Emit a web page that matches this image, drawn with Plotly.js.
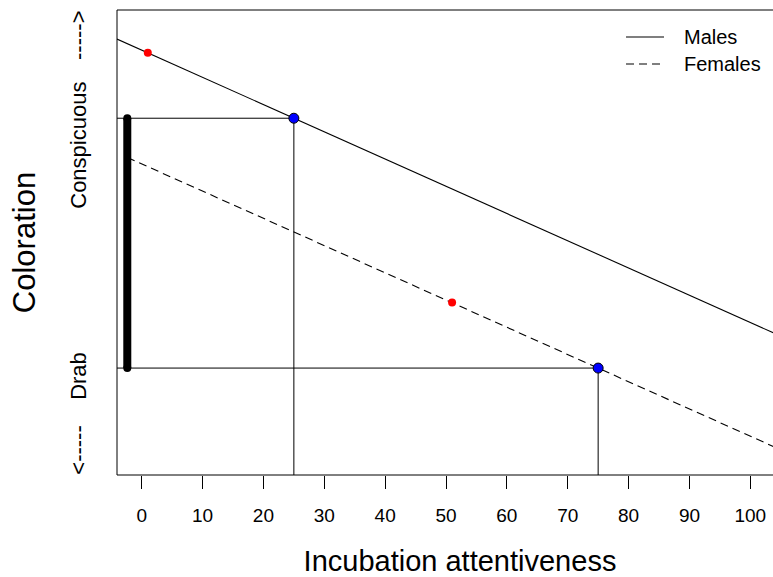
<!DOCTYPE html>
<html>
<head>
<meta charset="utf-8">
<script src="https://cdn.plot.ly/plotly-3.0.1.min.js"></script>
<style>html,body{margin:0;padding:0;background:#fff;overflow:hidden}#chart{width:803px;height:577px}</style>
</head>
<body>
<div id="chart"></div>
<script>
// ---- data (coloration in relative units: Drab = 0, Conspicuous = 1) ----
// The reference is cropped on the right, so the x axis runs past the visible edge.
const xRange = [-4.06, 108.66];
const yRange = [-0.428, 1.4332];

const maleX = [-4.06, 108.66];
const maleY = [1.317, 0.088];
const femaleX = [-2.37, 108.66];
const femaleY = [0.843, -0.367];

const redX = [1, 51];
const redY = [1.262, 0.262];

const blueX = [25, 75];
const blueY = [1, 0];

const barX = [-2.37, -2.37];
const barY = [0, 1];

const xTicks = [0, 10, 20, 30, 40, 50, 60, 70, 80, 90, 100];
const yTickVals = [-0.341, -0.045, 0.879, 1.319];
const yTickText = ['<-----', 'Drab', 'Conspicuous', '----->'];

const legendNames = ['Males', 'Females'];
const legendDash = ['solid', '8px,5px'];

const FONT = 'Liberation Sans, Arial, Helvetica, sans-serif';

const traces = [];
// guide lines from the blue points to the left edge and to the bottom edge
for (let i = 0; i < blueX.length; i++) {
  traces.push({x: [xRange[0], blueX[i]], y: [blueY[i], blueY[i]], mode: 'lines',
    line: {color: '#000', width: 1}, showlegend: false, hoverinfo: 'skip'});
  traces.push({x: [blueX[i], blueX[i]], y: [blueY[i], yRange[0]], mode: 'lines',
    line: {color: '#000', width: 1}, showlegend: false, hoverinfo: 'skip'});
}
traces.push({x: barX, y: barY, mode: 'lines+markers', line: {color: '#000', width: 8},
  marker: {color: '#000', size: 8}, showlegend: false, hoverinfo: 'skip'});
traces.push({x: maleX, y: maleY, mode: 'lines', name: legendNames[0], showlegend: false,
  line: {color: '#000', width: 1.1, dash: legendDash[0]}});
traces.push({x: femaleX, y: femaleY, mode: 'lines', name: legendNames[1], showlegend: false,
  line: {color: '#000', width: 1.1, dash: legendDash[1]}});
traces.push({x: redX, y: redY, mode: 'markers', showlegend: false,
  marker: {color: '#ff0000', size: 8}});
traces.push({x: blueX, y: blueY, mode: 'markers', showlegend: false,
  marker: {color: '#0000ff', size: 10, line: {color: '#000', width: 1}}});

// legend drawn as line samples + labels (placement only)
const legY = [0.942, 0.884];
const shapes = [{type: 'rect', xref: 'paper', yref: 'paper', x0: 0, x1: 1.02, y0: 0, y1: 1,
  line: {color: '#000', width: 1}, layer: 'above'}];
const annotations = [];
legendNames.forEach((n, i) => {
  shapes.push({type: 'line', xref: 'paper', yref: 'paper', x0: 0.742, x1: 0.7974,
    y0: legY[i], y1: legY[i], line: {color: '#000', width: 1.1, dash: legendDash[i]}});
  annotations.push({xref: 'paper', yref: 'paper', x: 0.8235, y: legY[i], xanchor: 'left',
    yanchor: 'middle', text: n, showarrow: false, font: {size: 20, family: FONT, color: '#000'}});
});

const layout = {
  width: 803, height: 577,
  margin: {l: 117, r: 0, t: 10, b: 102, autoexpand: false},
  paper_bgcolor: '#fff', plot_bgcolor: '#fff',
  font: {family: FONT, color: '#000', size: 19},
  xaxis: {
    range: xRange, automargin: false, showgrid: false, zeroline: false, showline: false,
    tickmode: 'array', tickvals: xTicks, ticks: 'outside', ticklen: 13, tickwidth: 1,
    tickcolor: '#000', ticklabelstandoff: 10, tickfont: {size: 19, family: FONT},
    title: {text: 'Incubation attentiveness', font: {size: 29, family: FONT}, standoff: 27}
  },
  yaxis: {
    range: yRange, automargin: false, showgrid: false, zeroline: false, showline: false,
    tickmode: 'array', tickvals: yTickVals, ticktext: yTickText, ticks: '',
    tickangle: -90, ticklabelstandoff: 26, tickfont: {size: 22, family: FONT},
    title: {text: 'Coloration', font: {size: 31, family: FONT}, standoff: 20}
  },
  showlegend: false,
  shapes: shapes,
  annotations: annotations
};

Plotly.newPlot('chart', traces, layout, {staticPlot: true, displayModeBar: false});
</script>
</body>
</html>
